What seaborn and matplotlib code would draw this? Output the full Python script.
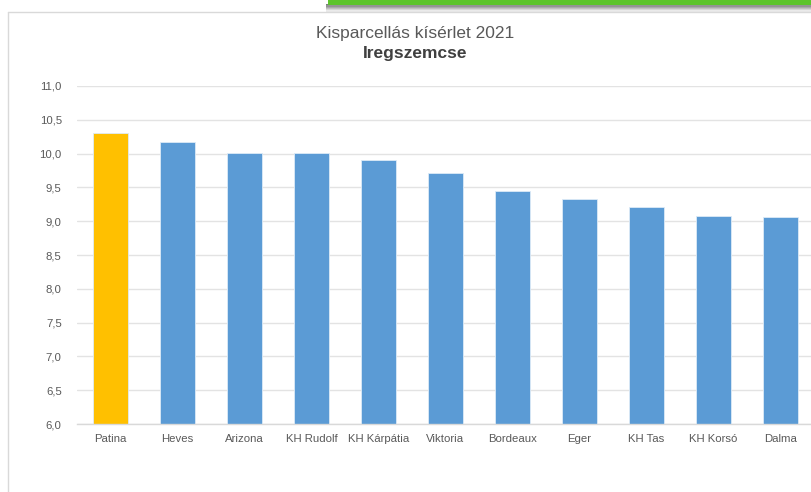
import matplotlib
matplotlib.use("Agg")
import matplotlib.pyplot as plt
import seaborn as sns
import pandas as pd
from matplotlib.patches import Rectangle
from matplotlib.lines import Line2D
from matplotlib.ticker import FuncFormatter, MultipleLocator

categories = ["Patina", "Heves", "Arizona", "KH Rudolf", "KH Kárpátia", "Viktoria",
              "Bordeaux", "Eger", "KH Tas", "KH Korsó", "Dalma"]
values = [10.30, 10.17, 10.01, 10.01, 9.91, 9.72, 9.44, 9.33, 9.21, 9.08, 9.06]
bar_colors = ["#FFC000"] + ["#5B9BD5"] * 10
title_main = "Kisparcellás kísérlet 2021"
title_sub = "Iregszemcse"

sns.set_theme(style="white")
plt.rcParams['font.family'] = ['Liberation Sans Narrow', 'Liberation Sans', 'DejaVu Sans']

W, H = 812, 492
fig = plt.figure(figsize=(W / 100, H / 100), dpi=100)
fig.patch.set_facecolor("white")

left, right, top, bottom = 77, 814, 86, 424
ax = fig.add_axes([left / W, 1 - bottom / H, (right - left) / W, (bottom - top) / H])

df = pd.DataFrame({"cat": categories, "val": values})
sns.barplot(data=df, x="cat", y="val", hue="cat", palette=bar_colors, legend=False,
            width=0.52, ax=ax, edgecolor="#DDEBF7", linewidth=0.6, saturation=1)

ax.set_ylim(6, 11)
ax.set_xlim(-0.5, len(categories) - 0.5)
ax.yaxis.set_major_locator(MultipleLocator(0.5))
ax.yaxis.set_major_formatter(FuncFormatter(lambda v, p: f"{v:.1f}".replace(".", ",")))
ax.grid(axis="y", color="#E3E3E3", linewidth=1)
ax.set_axisbelow(True)
for s in ["top", "right", "left"]:
    ax.spines[s].set_visible(False)
ax.spines["bottom"].set_color("#D9D9D9")
ax.spines["bottom"].set_linewidth(1)
ax.set_xlabel("")
ax.set_ylabel("")
ax.tick_params(axis="y", length=0, pad=11, labelsize=8.2, labelcolor="#595959")
ax.tick_params(axis="x", length=0, pad=7, labelsize=8.2, labelcolor="#595959")

# titles
fig.text(415 / W, 1 - 38 / H, title_main, ha="center", va="baseline", fontsize=12.5, color="#595959")
fig.text(415 / W, 1 - 58 / H, title_sub, ha="center", va="baseline", fontsize=12.5,
         color="#404040", fontweight="bold")

# chart frame
fig.add_artist(Line2D([8 / W, 8 / W], [0, 1 - 12 / H], color="#D9D9D9", linewidth=1))
fig.add_artist(Line2D([8 / W, 1], [1 - 12 / H, 1 - 12 / H], color="#D9D9D9", linewidth=1))

# green banner with shadow
shades = ["#7F7F7F", "#949494", "#AAAAAA", "#C0C0C0", "#D6D6D6", "#EAEAEA"]
for i, c in enumerate(shades):
    y0 = 4 + i * 1.3
    fig.add_artist(Rectangle((326 / W, 1 - (y0 + 1.4) / H), 1, 1.4 / H,
                             facecolor=c, edgecolor="none", transform=fig.transFigure))
fig.add_artist(Rectangle((328 / W, 1 - 4.5 / H), 1, 4.5 / H,
                         facecolor="#5DC42C", edgecolor="none", transform=fig.transFigure))

fig.savefig("out.png", dpi=100, facecolor="white")
